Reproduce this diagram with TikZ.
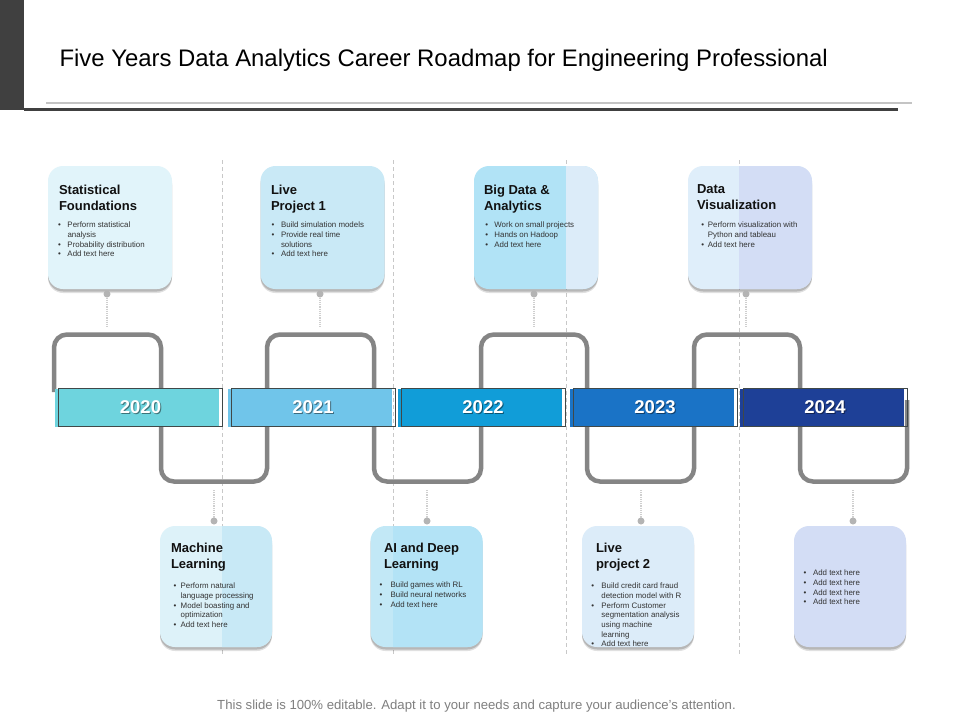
\documentclass[tikz,border=0pt]{standalone}
\usepackage{fontspec}
\setmainfont{Liberation Sans}
\usetikzlibrary{shadows}
\definecolor{darkbar}{HTML}{404040}
\definecolor{lightrule}{HTML}{C4C4C4}
\definecolor{titletext}{HTML}{111111}
\definecolor{listtext}{HTML}{333333}
\definecolor{framegray}{HTML}{404848}
\definecolor{loopgray}{HTML}{858585}
\definecolor{dashgray}{HTML}{C8C8C8}
\definecolor{dotgray}{HTML}{B4B4B4}
\definecolor{linkgray}{HTML}{CFCFCF}
\definecolor{footgray}{HTML}{7F7F7F}
\definecolor{yA}{HTML}{6ED4DE}
\definecolor{yB}{HTML}{70C5EA}
\definecolor{yC}{HTML}{119DD8}
\definecolor{yD}{HTML}{1A73C6}
\definecolor{yE}{HTML}{1E4097}
\definecolor{cA}{HTML}{E1F4FA}
\definecolor{cB}{HTML}{C9E9F6}
\definecolor{cCl}{HTML}{B1E3F6}
\definecolor{cCr}{HTML}{DCECF9}
\definecolor{cDl}{HTML}{DFEEFA}
\definecolor{cDr}{HTML}{D3DDF5}
\definecolor{cEl}{HTML}{DDF2F9}
\definecolor{cEr}{HTML}{C8E9F6}
\definecolor{cFl}{HTML}{C2E8F6}
\definecolor{cFr}{HTML}{B3E3F6}
\definecolor{cG}{HTML}{DCECF9}
\definecolor{cH}{HTML}{D3DDF5}
\newlength\bulw
\setlength\bulw{9pt}
\newcommand\mybul{\makebox[\bulw][l]{•}}
\newcommand\myind{\hspace*{\bulw}}
\newcommand\setbul[1]{\global\bulw=#1\relax}
\begin{document}
\begin{tikzpicture}[x=1pt,y=-1pt,
  every node/.style={inner sep=0pt, outer sep=0pt},
  card/.style={rounded corners=15pt,
    drop shadow={shadow xshift=0pt,shadow yshift=-4pt,opacity=0.12,fill=black},
    drop shadow={shadow xshift=0pt,shadow yshift=-2.5pt,opacity=0.18,fill=black}},
  topcard/.style={card, minimum width=124pt, minimum height=123pt},
  botcard/.style={card, minimum width=112pt, minimum height=121pt},
  cardtitle/.style={anchor=north west, align=left, font=\bfseries\fontsize{13}{16}\selectfont, text=titletext},
  cardlist/.style={anchor=north west, align=left, font=\fontsize{7.9}{9.7}\selectfont, text=listtext},
  yearfill/.style={minimum width=164pt, minimum height=38pt},
  yearframe/.style={draw=framegray, line width=0.8pt, minimum width=164pt, minimum height=38pt},
  yeartext/.style={font=\bfseries\fontsize{18.5}{18}\selectfont, text=white},
  yearshade/.style={font=\bfseries\fontsize{18.5}{18}\selectfont, text=black, opacity=0.45},
  dotmark/.style={circle, fill=dotgray, minimum size=7pt},
  link/.style={draw=linkgray, densely dotted, line width=1.2pt},
  divider/.style={draw=dashgray, dash pattern=on 4pt off 3pt, line width=0.7pt},
  serpent/.style={draw=loopgray, line width=4.5pt, rounded corners=13pt},
]
\useasboundingbox (0,0) rectangle (960,720);
\fill[white] (0,0) rectangle (960,720);

% header
\fill[darkbar] (0,0) rectangle (24,110);
\draw[lightrule, line width=2pt] (46,103) -- (912,103);
\draw[darkbar, line width=3pt] (24,109.5) -- (898,109.5);
\node[anchor=west, font=\fontsize{23.9}{28}\selectfont, text=black] (title) at (59.5,60)
  {Five Years Data Analytics Career Roadmap for Engineering Professional};

% dashed dividers
\foreach \xx in {222,393,566,739} \draw[divider] (\xx,160) -- (\xx,654);

% serpentine line
\draw[serpent] (54,392) -- (54,334.5) -- (161,334.5) -- (161,481.5) -- (267,481.5) -- (267,334.5)
  -- (374,334.5) -- (374,481.5) -- (481,481.5) -- (481,334.5) -- (587,334.5) -- (587,481.5)
  -- (694,481.5) -- (694,334.5) -- (800,334.5) -- (800,481.5) -- (907,481.5) -- (907,400);

% year bars
\foreach \cx/\col/\yr [count=\i] in {140.5/yA/2020, 313/yB/2021, 483/yC/2022, 655/yD/2023, 825/yE/2024}{
  \node[yearfill, fill=\col] (yf\i) at (\cx-3.5,408) {};
  \node[yearframe] (yb\i) at (\cx,407) {};
  \node[yearshade] (ys\i) at ([shift={(1pt,-1pt)}]yb\i.center) {\yr};
  \node[yeartext] (yt\i) at (yb\i.center) {\yr};
}

% top cards
\node[topcard, fill=cA] (b1) at (110,227.5) {};
\node[topcard, fill=cB] (b2) at (322.5,227.5) {};
\node[topcard, fill=cCl] (b3) at (536,227.5) {};
\begin{scope}
  \clip[rounded corners=15pt] (b3.south west) rectangle (b3.north east);
  \fill[cCr] (566,160) rectangle (600,295);
\end{scope}
\node[topcard, fill=cDl] (b4) at (750,227.5) {};
\begin{scope}
  \clip[rounded corners=15pt] (b4.south west) rectangle (b4.north east);
  \fill[cDr] (739,160) rectangle (815,295);
\end{scope}

% bottom cards
\node[botcard, fill=cEl] (b5) at (216,586.5) {};
\begin{scope}
  \clip[rounded corners=15pt] (b5.south west) rectangle (b5.north east);
  \fill[cEr] (222,520) rectangle (275,650);
\end{scope}
\node[botcard, fill=cFl] (b6) at (426.5,586.5) {};
\begin{scope}
  \clip[rounded corners=15pt] (b6.south west) rectangle (b6.north east);
  \fill[cFr] (393,520) rectangle (485,650);
\end{scope}
\node[botcard, fill=cG] (b7) at (638,586.5) {};
\node[botcard, fill=cH] (b8) at (850,586.5) {};

% card texts
\node[cardtitle] (h1) at (59,185) {Statistical\\Foundations};
\node[cardlist] (l1) at (58,222) {\setbul{9.5pt}\mybul Perform statistical\\\myind analysis\\\mybul Probability distribution\\\mybul Add text here};
\node[cardtitle] (h2) at (271,185) {Live\\Project 1};
\node[cardlist] (l2) at (271.7,222) {\setbul{9.3pt}\mybul Build simulation models\\\mybul Provide real time\\\myind solutions\\\mybul Add text here};
\node[cardtitle] (h3) at (484,185) {Big Data \&\\Analytics};
\node[cardlist] (l3) at (485.4,222) {\setbul{9pt}\mybul Work on small projects\\\mybul Hands on Hadoop\\\mybul Add text here};
\node[cardtitle] (h4) at (697,185) {Data\\Visualization};
\node[cardlist] (l4) at (701.4,222) {\setbul{6.5pt}\mybul Perform visualization with\\\myind Python and tableau\\\mybul Add text here};

\node[cardtitle] (h5) at (171,543) {Machine\\Learning};
\node[cardlist] (l5) at (173.7,583) {\setbul{7pt}\mybul Perform natural\\\myind language processing\\\mybul Model boasting and\\\myind optimization\\\mybul Add text here};
\node[cardtitle] (h6) at (384,543) {AI and Deep\\Learning};
\node[cardlist] (l6) at (379.7,582) {\setbul{11pt}\mybul Build games with RL\\\mybul Build neural networks\\\mybul Add text here};
\node[cardtitle] (h7) at (596,543) {Live\\project 2};
\node[cardlist] (l7) at (591.4,583) {\setbul{10pt}\mybul Build credit card fraud\\\myind detection model with R\\\mybul Perform Customer\\\myind segmentation analysis\\\myind using machine\\\myind learning\\\mybul Add text here};
\node[cardlist] (l8) at (803.7,570) {\setbul{9.3pt}\mybul Add text here\\\mybul Add text here\\\mybul Add text here\\\mybul Add text here};

% dots and links
\foreach \dx [count=\i] in {107,320,534,746}{
  \node[dotmark] (td\i) at (\dx,294) {};
  \coordinate (tc\i) at (\dx,327);
  \draw[link] (td\i) -- (tc\i);
}
\foreach \dx [count=\i] in {214,427,641,853}{
  \node[dotmark] (bd\i) at (\dx,521) {};
  \coordinate (bc\i) at (\dx,489);
  \draw[link] (bd\i) -- (bc\i);
}

% footer
\node[font=\fontsize{13.15}{15}\selectfont, text=footgray] (foot) at (476.5,706)
  {This slide is 100\% editable. Adapt it to your needs and capture your audience's attention.};
\end{tikzpicture}
\end{document}
